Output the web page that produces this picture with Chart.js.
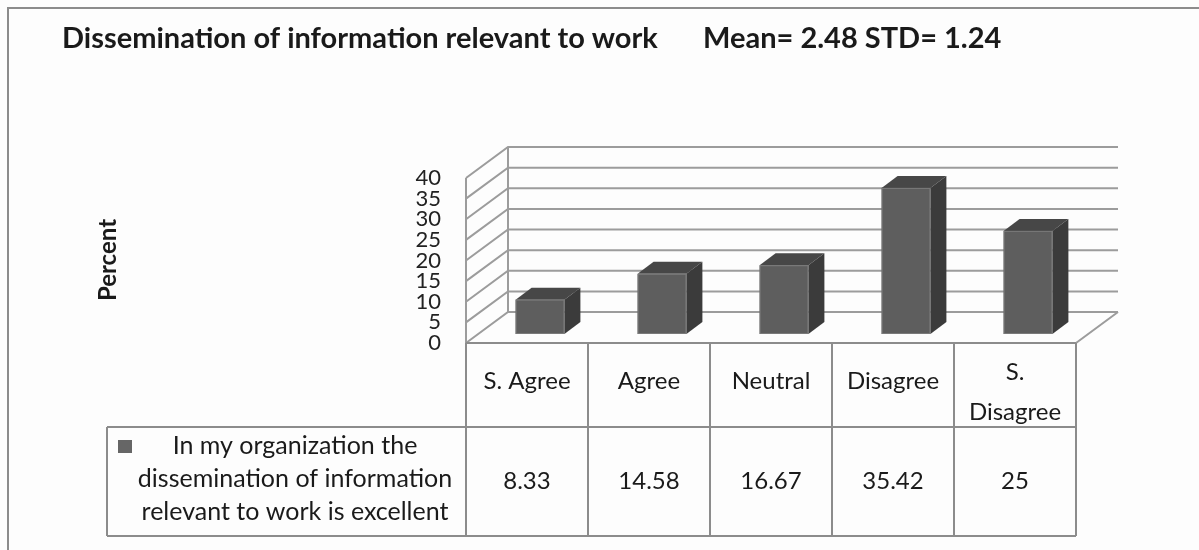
<!DOCTYPE html>
<html>
<head>
<meta charset="utf-8">
<script src="https://cdn.jsdelivr.net/npm/chart.js@4.4.0/dist/chart.umd.min.js"></script>
<style>
  html, body { margin: 0; padding: 0; background: #fdfdfd; }
  canvas { display: block; }
</style>
</head>
<body>
<canvas id="myChart" width="1199" height="550"></canvas>
<script>
const categories = ['S. Agree', 'Agree', 'Neutral', 'Disagree', ['S.', 'Disagree']];
const percents = [8.33, 14.58, 16.67, 35.42, 25];
const seriesName = ['In my organization the', 'dissemination of information', 'relevant to work is excellent'];
const yTicks = [0, 5, 10, 15, 20, 25, 30, 35, 40];
const titleText = 'Dissemination of information relevant to work';
const statsText = 'Mean= 2.48 STD= 1.24';
const axisTitle = 'Percent';

// oblique offsets of the 3d box (walls) and of the bars inside it
const depth = { x: 42, y: -31 };
const barFront = { x: 13, y: -9 };
const barBack = { x: 29, y: -21 };

const gridColor = '#9c9c9c';
const tableColor = '#8c8c8c';
const textColor = '#1a1a1a';

function poly(ctx, pts, fill) {
  ctx.beginPath();
  ctx.moveTo(pts[0][0], pts[0][1]);
  for (let i = 1; i < pts.length; i++) ctx.lineTo(pts[i][0], pts[i][1]);
  ctx.closePath();
  ctx.fillStyle = fill;
  ctx.fill();
}

const chart3d = {
  id: 'chart3d',
  beforeDraw(chart) {
    const {ctx, chartArea: {left, right, top, bottom}, scales: {x, y}} = chart;
    ctx.save();
    ctx.fillStyle = '#fdfdfd';
    ctx.fillRect(0, 0, chart.width, chart.height);

    // outer frame
    ctx.strokeStyle = tableColor;
    ctx.lineWidth = 2;
    ctx.beginPath();
    ctx.moveTo(8, chart.height);
    ctx.lineTo(8, 8);
    ctx.lineTo(chart.width, 8);
    ctx.stroke();

    // title
    ctx.fillStyle = textColor;
    ctx.font = 'bold 29px Lato';
    ctx.textAlign = 'left';
    ctx.textBaseline = 'alphabetic';
    ctx.fillText(titleText, 62, 48);
    ctx.fillText(statsText, 703, 48);

    // y axis title
    ctx.save();
    ctx.translate(108, 260);
    ctx.rotate(-Math.PI / 2);
    ctx.font = 'bold 24px Lato';
    ctx.textAlign = 'center';
    ctx.textBaseline = 'middle';
    ctx.fillText(axisTitle, 0, 0);
    ctx.restore();

    // side wall + back wall gridlines
    ctx.strokeStyle = gridColor;
    ctx.lineWidth = 2;
    yTicks.forEach(v => {
      const py = y.getPixelForValue(v);
      ctx.beginPath();
      ctx.moveTo(left, py);
      ctx.lineTo(left + depth.x, py + depth.y);
      ctx.lineTo(right + depth.x, py + depth.y);
      ctx.stroke();
    });
    const yMax = y.getPixelForValue(yTicks[yTicks.length - 1]);
    const y0 = y.getPixelForValue(0);
    ctx.beginPath();
    ctx.moveTo(left, yMax);
    ctx.lineTo(left, y0);
    ctx.moveTo(left + depth.x, yMax + depth.y);
    ctx.lineTo(left + depth.x, y0 + depth.y);
    // floor right edge
    ctx.moveTo(right + depth.x, y0 + depth.y);
    ctx.lineTo(right, y0);
    ctx.stroke();

    // data table
    const headTop = y0, headBottom = 427, tableBottom = 536, legendLeft = 107;
    ctx.strokeStyle = tableColor;
    ctx.lineWidth = 2;
    ctx.beginPath();
    ctx.moveTo(left, headTop); ctx.lineTo(right, headTop);
    ctx.moveTo(legendLeft, headBottom); ctx.lineTo(right, headBottom);
    ctx.moveTo(legendLeft, tableBottom); ctx.lineTo(right, tableBottom);
    ctx.moveTo(legendLeft, headBottom); ctx.lineTo(legendLeft, tableBottom);
    const colW = (right - left) / categories.length;
    for (let i = 0; i <= categories.length; i++) {
      const cx = left + i * colW;
      ctx.moveTo(cx, headTop);
      ctx.lineTo(cx, tableBottom);
    }
    ctx.stroke();

    ctx.fillStyle = textColor;
    ctx.font = '24px Lato';
    ctx.textAlign = 'center';
    ctx.textBaseline = 'middle';
    categories.forEach((c, i) => {
      const cx = x.getPixelForValue(i);
      if (Array.isArray(c)) {
        c.forEach((line, j) => ctx.fillText(line, cx, headTop + 29 + j * 40));
      } else {
        ctx.fillText(c, cx, headTop + 38);
      }
      ctx.fillText(String(percents[i]), cx, 481);
    });

    // legend key + series name
    ctx.fillStyle = '#666666';
    ctx.fillRect(118, 440, 14, 13);
    ctx.fillStyle = textColor;
    ctx.font = '25px Lato';
    seriesName.forEach((line, j) => ctx.fillText(line, 295, 446 + j * 33));
    ctx.restore();
  },
  afterDatasetsDraw(chart) {
    const {ctx} = chart;
    const meta = chart.getDatasetMeta(0);
    const ddx = barBack.x - barFront.x, ddy = barBack.y - barFront.y;
    ctx.save();
    meta.data.forEach(bar => {
      const {x, y, base, width} = bar.getProps(['x', 'y', 'base', 'width'], true);
      const x0 = x - width / 2 + barFront.x, x1 = x + width / 2 + barFront.x;
      const yt = y + barFront.y, yb = base + barFront.y;
      poly(ctx, [[x0, yt], [x1, yt], [x1 + ddx, yt + ddy], [x0 + ddx, yt + ddy]], '#474747');
      poly(ctx, [[x1, yt], [x1 + ddx, yt + ddy], [x1 + ddx, yb + ddy], [x1, yb]], '#3b3b3b');
      ctx.fillStyle = '#5e5e5e';
      ctx.fillRect(x0, yt, width, yb - yt);
      ctx.strokeStyle = '#7a7a7a';
      ctx.lineWidth = 1;
      ctx.strokeRect(x0 + 0.5, yt + 0.5, width - 1, yb - yt - 1);
    });
    ctx.restore();
  }
};

var myChart = new Chart(document.getElementById('myChart'), {
  type: 'bar',
  data: {
    labels: categories,
    datasets: [{
      label: seriesName.join(' '),
      data: percents,
      backgroundColor: 'rgba(0,0,0,0)',
      borderWidth: 0,
      categoryPercentage: 0.4,
      barPercentage: 1.0
    }]
  },
  options: {
    responsive: false,
    animation: false,
    layout: {
      padding: { left: 386, right: 123, top: 178, bottom: 207 }
    },
    plugins: {
      legend: { display: false },
      title: { display: false },
      tooltip: { enabled: false }
    },
    scales: {
      x: { display: false },
      y: {
        min: 0,
        max: 40,
        afterFit(scale) { scale.width = 80; },
        grid: { display: false, drawTicks: false },
        border: { display: false },
        ticks: {
          stepSize: 5,
          autoSkip: false,
          padding: 25,
          color: '#222',
          font: { family: 'Lato', size: 22 }
        }
      }
    }
  },
  plugins: [chart3d]
});
</script>
</body>
</html>
